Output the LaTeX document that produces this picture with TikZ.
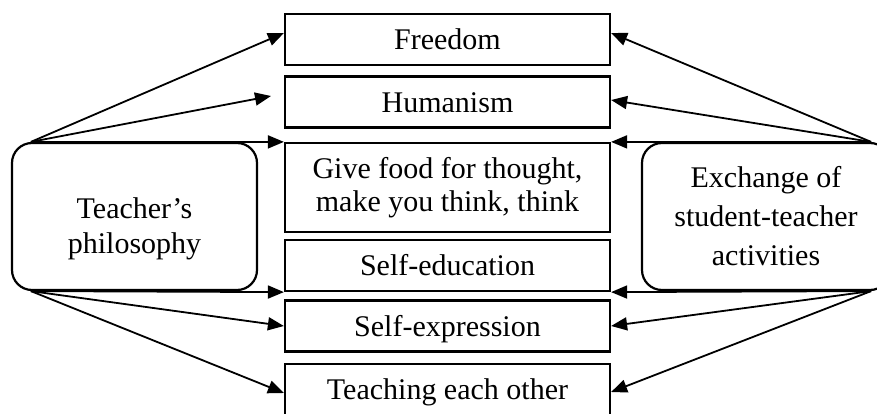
\documentclass[tikz,border=0pt]{standalone}
\usepackage{fontspec}
\setmainfont{Liberation Serif}
\usetikzlibrary{arrows.meta}
\begin{document}
\begin{tikzpicture}[x=1pt,y=-1pt,
  txtfont/.style={font=\fontsize{30}{33}\selectfont},
  box/.style={draw, line width=2.2pt, minimum width=325pt, inner sep=0pt, align=center, txtfont},
  onebox/.style={box, minimum height=51pt, text height=20.5pt, text depth=0pt},
  roundbox/.style={draw, line width=2.2pt, rounded corners=20pt, inner sep=0pt, align=center},
  lbl/.style={align=center, inner sep=0pt},
  link/.style={line width=1.8pt, -{Triangle[length=16pt,width=13pt]}}]
\useasboundingbox (0,0) rectangle (877,414);
\clip (0,0) rectangle (877,414);

% central column of boxes
\node[onebox] (fre) at (447.5,39.5) {Freedom};
\node[onebox] (hum) at (447.5,102) {Humanism};
\node[box, minimum height=89pt] (food) at (447.5,187.5)
  {Give food for thought,\\make you think, think};
\node[onebox] (sedu) at (447.5,265.5) {Self-education};
\node[onebox] (sexp) at (447.5,326) {Self-expression};
\node[onebox] (teach) at (447.5,389.5) {Teaching each other};

% the two sources
\node[roundbox, minimum width=245pt, minimum height=147pt] (lbox) at (134.5,216.5) {};
\node[lbl, font=\fontsize{30}{35}\selectfont] (ltext) at (134.5,229) {Teacher’s\\philosophy};
\node[roundbox, minimum width=248pt, minimum height=147pt,
      font=\fontsize{30}{39}\selectfont] (rbox) at (766,216.5)
  {Exchange of\\student-teacher\\activities};

% start points of the arrow fans
\coordinate (lt) at ([xshift=20pt]lbox.north west);
\coordinate (lb) at ([xshift=20pt]lbox.south west);
\coordinate (rt) at ([xshift=-20pt]rbox.north east);
\coordinate (rb) at ([xshift=-20pt]rbox.south east);
\coordinate (humtip) at (271,96);

% left fan
\draw[link] (lt) -- ([yshift=6.5pt]fre.west);
\draw[link] (lt) -- (humtip);
\draw[link] (lt) -- (food.north west);
\draw[link] (lb) -- (sedu.south west);
\draw[link] (lb) -- (sexp.west);
\draw[link] (lb) -- ([yshift=-3.5pt]teach.west);

% right fan
\draw[link] (rt) -- ([yshift=6.5pt]fre.east);
\draw[link] (rt) -- ([yshift=2pt]hum.east);
\draw[link] (rt) -- (food.north east);
\draw[link] (rb) -- (sedu.south east);
\draw[link] (rb) -- (sexp.east);
\draw[link] (rb) -- ([yshift=-2.5pt]teach.east);
\end{tikzpicture}
\end{document}
